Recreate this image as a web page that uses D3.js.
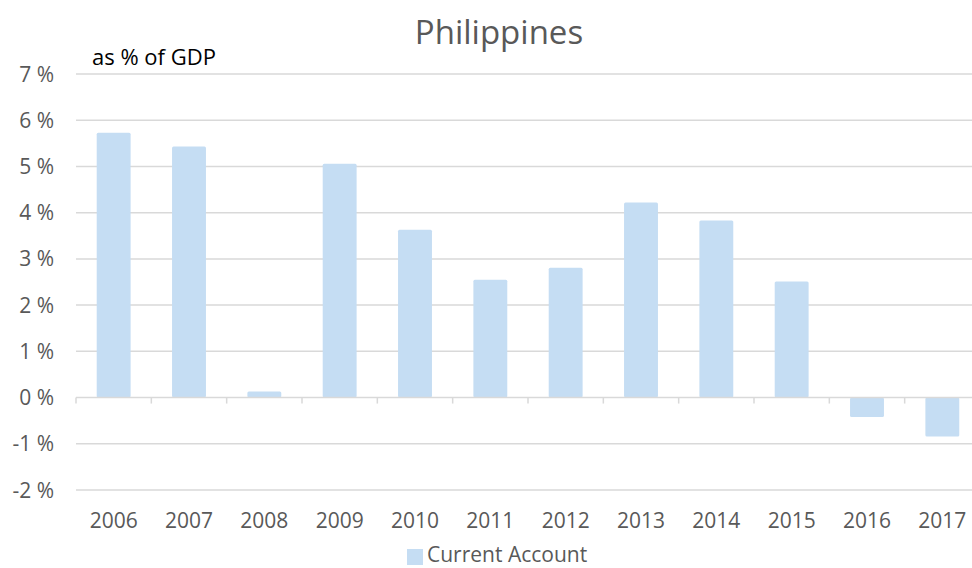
<!DOCTYPE html>
<html>
<head>
<meta charset="utf-8">
<script src="https://cdn.jsdelivr.net/npm/d3@7"></script>
<style>
  html, body { margin: 0; padding: 0; background: #fff; overflow: hidden; }
</style>
</head>
<body>
<script>
// データ
const years = ["2006", "2007", "2008", "2009", "2010", "2011", "2012", "2013", "2014", "2015", "2016", "2017"];
const currentAccount = [5.73, 5.43, 0.13, 5.06, 3.63, 2.55, 2.81, 4.22, 3.83, 2.51, -0.42, -0.84];
const yTicks = [-2, -1, 0, 1, 2, 3, 4, 5, 6, 7];

const width = 972;
const height = 568;
const font = "'Open Sans', 'Noto Sans', sans-serif";
const textColor = "#595959";

const svg = d3.select("body")
  .append("svg")
  .attr("width", width)
  .attr("height", height)
  .style("font-family", font);

// スケール
const x = d3.scaleBand().domain(years).range([76, 980]);
const y = d3.scaleLinear().domain([-2, 7]).range([490, 74]);

// グリッド線
svg.append("g")
  .selectAll("line")
  .data(yTicks.filter(d => d !== 0))
  .join("line")
  .attr("x1", 76)
  .attr("x2", width)
  .attr("y1", d => y(d))
  .attr("y2", d => y(d))
  .attr("stroke", "#d9d9d9")
  .attr("stroke-width", 1.5);

// Y軸ラベル
svg.append("g")
  .selectAll("text")
  .data(yTicks)
  .join("text")
  .attr("x", 54)
  .attr("y", d => y(d))
  .attr("dy", "0.36em")
  .attr("text-anchor", "end")
  .attr("font-size", "21px")
  .attr("fill", textColor)
  .text(d => d + " %");

// バー
const bw = x.bandwidth() * 0.45;
svg.append("g")
  .selectAll("rect")
  .data(years.map((yr, i) => ({ yr, v: currentAccount[i] })))
  .join("rect")
  .attr("x", d => x(d.yr) + (x.bandwidth() - bw) / 2)
  .attr("y", d => y(Math.max(0, d.v)))
  .attr("width", bw)
  .attr("height", d => Math.abs(y(d.v) - y(0)))
  .attr("rx", 1.5)
  .attr("fill", "#c5ddf3");

// ゼロ線と目盛り
svg.append("line")
  .attr("x1", 76)
  .attr("x2", width)
  .attr("y1", y(0))
  .attr("y2", y(0))
  .attr("stroke", "#d9d9d9")
  .attr("stroke-width", 1.5);

svg.append("g")
  .selectAll("line")
  .data(years)
  .join("line")
  .attr("x1", d => x(d))
  .attr("x2", d => x(d))
  .attr("y1", y(0))
  .attr("y2", y(0) + 6)
  .attr("stroke", "#d9d9d9")
  .attr("stroke-width", 1.5);

// X軸ラベル
svg.append("g")
  .selectAll("text")
  .data(years)
  .join("text")
  .attr("x", d => x(d) + x.bandwidth() / 2)
  .attr("y", 528)
  .attr("text-anchor", "middle")
  .attr("font-size", "21px")
  .attr("fill", textColor)
  .text(d => d);

// タイトル
svg.append("text")
  .attr("x", 499)
  .attr("y", 44)
  .attr("text-anchor", "middle")
  .attr("font-size", "33px")
  .attr("fill", textColor)
  .text("Philippines");

svg.append("text")
  .attr("x", 92)
  .attr("y", 65)
  .attr("font-size", "22px")
  .attr("fill", "#000")
  .text("as % of GDP");

// 凡例
svg.append("rect")
  .attr("x", 407)
  .attr("y", 549)
  .attr("width", 16)
  .attr("height", 16)
  .attr("fill", "#c5ddf3");

svg.append("text")
  .attr("x", 427)
  .attr("y", 562)
  .attr("font-size", "21px")
  .attr("fill", textColor)
  .text("Current Account");
</script>
</body>
</html>
